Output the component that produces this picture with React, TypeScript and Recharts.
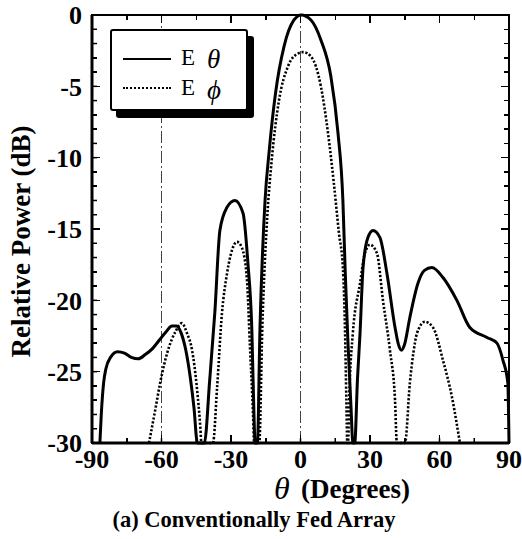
import { LineChart, Line, XAxis, YAxis, ReferenceLine } from "recharts";

// E-theta (solid) pattern, degrees / dB (nulls sit on the -30 dB floor)
const thetaE = [
  -86.6, -86, -85, -84, -82, -79, -76, -73, -70, -67, -64, -61, -58, -55.5, -53.5,
  -51.5, -49.5, -47.5, -46, -44.5, -41.5, -39.2, -37, -34.8, -31.8, -28.3, -24.8,
  -22.7, -21, -20.1, -19.6, -18.6, -17.5, -15.3, -13.5, -10.8, -7.1, -2.8, 0.3,
  4.5, 8.8, 13.1, 16.2, 18.3, 19.3, 20.5, 21.8, 22.6, 23.4, 24.6, 25.7, 27, 29.1,
  31.3, 34.3, 37.3, 40.8, 42.3, 43.6, 44.9, 47.2, 50.7, 53.5, 56.7, 61.5, 67.5,
  73.1, 80.5, 84.8, 87.4, 89.5, 90,
];
const powerE = [
  -30, -28, -25.8, -24.8, -24.0, -23.6, -23.7, -24.0, -24.1, -23.8, -23.4, -22.8,
  -22.2, -21.8, -21.8, -22.3, -23.5, -25.5, -27.5, -30, -30, -25.6, -20.9, -15.1,
  -13.5, -13.0, -13.9, -17.4, -22.1, -27.9, -30, -30, -22, -13, -9.5, -5.5, -2.2,
  -0.35, 0, -0.35, -1.75, -4.3, -8.3, -13, -18, -23, -27.5, -30, -30, -25.5, -22.3,
  -17.7, -15.6, -15.1, -15.6, -18.1, -21.9, -23.1, -23.5, -23.1, -21.2, -18.8,
  -17.9, -17.7, -18.4, -20, -21.9, -22.6, -23, -24.2, -25.8, -30,
];

// E-phi (dotted) pattern
const thetaP = [
  -65.4, -62.5, -60.6, -57.2, -54, -51.2, -49, -46.8, -44.8, -43.2, -42.8, -37.8,
  -36, -33.9, -31.7, -29.6, -27.4, -25.3, -23.1, -21.8, -20.5, -20, -17.8, -16.5,
  -14.3, -12.5, -9.3, -5.4, -1.1, 1.1, 4.5, 8.8, 11.9, 14.4, 16.6, 18.3, 19.2,
  19.8, 20.2, 20.5, 21.2, 22.6, 25.7, 27.8, 30, 33, 35.6, 38.6, 40.8, 41.6, 45.1,
  47.2, 48.8, 50.3, 53.7, 57.2, 61.5, 65.4, 68.8,
];
const powerP = [
  -30, -27.5, -25.8, -23.5, -22.2, -21.6, -22.3, -23.5, -26, -29, -30, -30, -26.1,
  -20.9, -18.1, -16.5, -15.9, -16.3, -18.6, -23.3, -27.9, -30, -30, -22, -14,
  -10.3, -6, -3.6, -2.7, -2.6, -2.9, -5, -8.3, -11.8, -15.3, -17.7, -22, -27, -30,
  -30, -26, -22.3, -18.8, -16.7, -16.1, -16.7, -20, -23.5, -27, -30, -30, -25.8,
  -23.6, -22.3, -21.5, -21.9, -24.2, -26.8, -30,
];

const xTicks = [-90, -75, -60, -45, -30, -15, 0, 15, 30, 45, 60, 75, 90];
const xLabels = [-90, -60, -30, 0, 30, 60, 90];
const yTicks = [
  -30, -29, -28, -27, -26, -25, -24, -23, -22, -21, -20, -19, -18, -17, -16, -15,
  -14, -13, -12, -11, -10, -9, -8, -7, -6, -5, -4, -3, -2, -1, 0,
];
const yLabels = [-30, -25, -20, -15, -10, -5, 0];
const refLines = [-60, 0];

const eTheta = thetaE.map((t, i) => ({ theta: t, power: powerE[i] }));
const ePhi = thetaP.map((t, i) => ({ theta: t, power: powerP[i] }));

const FONT = '"Liberation Serif", "Times New Roman", serif';

// plot frame: x 92..509, y 15..443
const PL = 92;
const PR = 509;
const PT = 15;
const PB = 443;
const xPix = (t: number) => PL + ((t + 90) / 180) * (PR - PL);
const yPix = (d: number) => PT + (-d / 30) * (PB - PT);

const tickFont = { fontSize: 26, fontWeight: "bold", fontFamily: FONT, fill: "#000" };

const abs = (left: number, top: number, extra: any = {}) => ({
  position: "absolute" as const,
  left,
  top,
  pointerEvents: "none" as const,
  ...extra,
});

export default function App() {
  return (
    <div style={{ position: "absolute", left: 0, top: 0, width: 522, height: 539, background: "#fff", fontFamily: FONT, color: "#000" }}>
      <LineChart width={522} height={539} margin={{ top: 15, right: 13, bottom: 56, left: 0 }}>
        <XAxis
          dataKey="theta"
          type="number"
          domain={[-90, 90]}
          ticks={xTicks}
          interval={0}
          height={40}
          stroke="#000"
          strokeWidth={3}
          tickSize={-5}
          tickMargin={12}
          tickLine={{ strokeWidth: 1.5 }}
          tick={tickFont}
          tickFormatter={(v: number) => (xLabels.includes(v) ? String(v) : "")}
        />
        <YAxis
          type="number"
          domain={[-30, 0]}
          ticks={yTicks}
          interval={0}
          width={92}
          stroke="#000"
          strokeWidth={3}
          tickSize={-5}
          tickMargin={15}
          tickLine={{ strokeWidth: 1.5 }}
          tick={tickFont}
          tickFormatter={(v: number) => (yLabels.includes(v) ? String(v) : "")}
        />
        {refLines.map((v) => (
          <ReferenceLine key={v} x={v} stroke="#444" strokeWidth={1} strokeDasharray="12 3 2 3" />
        ))}
        <Line
          data={ePhi}
          dataKey="power"
          type="monotone"
          stroke="#000"
          strokeWidth={2.6}
          strokeDasharray="2.2 1.8"
          dot={false}
          activeDot={false}
          isAnimationActive={false}
        />
        <Line
          data={eTheta}
          dataKey="power"
          type="monotone"
          stroke="#000"
          strokeWidth={3}
          dot={false}
          activeDot={false}
          isAnimationActive={false}
        />
      </LineChart>

      {/* plot frame and inward ticks on all four sides */}
      <div
        style={abs(PL - 1.25, PT - 1.25, {
          width: PR - PL + 2.5,
          height: PB - PT + 2.5,
          border: "2.5px solid #000",
          boxSizing: "border-box",
        })}
      />
      {xTicks.map((t) => {
        const len = xLabels.includes(t) ? 8 : 5;
        const x = xPix(t) - 0.75;
        return (
          <div key={`xt${t}`}>
            <div style={abs(x, PB - len, { width: 1.5, height: len, background: "#000" })} />
            <div style={abs(x, PT, { width: 1.5, height: len, background: "#000" })} />
          </div>
        );
      })}
      {yTicks.map((d) => {
        const len = yLabels.includes(d) ? 8 : 5;
        const y = yPix(d) - 0.75;
        return (
          <div key={`yt${d}`}>
            <div style={abs(PL, y, { width: len, height: 1.5, background: "#000" })} />
            <div style={abs(PR - len, y, { width: len, height: 1.5, background: "#000" })} />
          </div>
        );
      })}

      {/* legend */}
      <div
        style={abs(110, 29, {
          width: 138,
          height: 82,
          boxSizing: "border-box",
          border: "2.5px solid #000",
          borderRadius: 3,
          boxShadow: "6px 7px 0 #000",
          background: "#fff",
        })}
      />
      <div style={abs(123, 58, { width: 48, height: 0, borderTop: "2.5px solid #000" })} />
      <div style={abs(123, 87, { width: 48, height: 0, borderTop: "2.2px dotted #000" })} />
      <div style={abs(181, 46, { fontSize: 23, lineHeight: "23px", whiteSpace: "nowrap" })}>E</div>
      <div style={abs(207, 46, { fontSize: 27, lineHeight: "27px", fontStyle: "italic", whiteSpace: "nowrap" })}>θ</div>
      <div style={abs(181, 76, { fontSize: 23, lineHeight: "23px", whiteSpace: "nowrap" })}>E</div>
      <div style={abs(207, 77, { fontSize: 27, lineHeight: "27px", fontStyle: "italic", whiteSpace: "nowrap" })}>ϕ</div>

      {/* axis titles */}
      <div
        style={abs(-129, 227.5, {
          width: 300,
          height: 27,
          fontSize: 27,
          lineHeight: "27px",
          fontWeight: "bold",
          textAlign: "center",
          whiteSpace: "nowrap",
          transform: "rotate(-90deg)",
        })}
      >
        Relative Power (dB)
      </div>
      <div style={abs(274, 472, { fontSize: 32, lineHeight: "32px", fontStyle: "italic", whiteSpace: "nowrap" })}>θ</div>
      <div style={abs(301, 476, { fontSize: 27, lineHeight: "27px", fontWeight: "bold", whiteSpace: "nowrap" })}>
        (Degrees)
      </div>
      <div style={abs(54, 509, { width: 400, fontSize: 22.5, lineHeight: "22.5px", fontWeight: "bold", textAlign: "center", whiteSpace: "nowrap" })}>
        (a) Conventionally Fed Array
      </div>
    </div>
  );
}
